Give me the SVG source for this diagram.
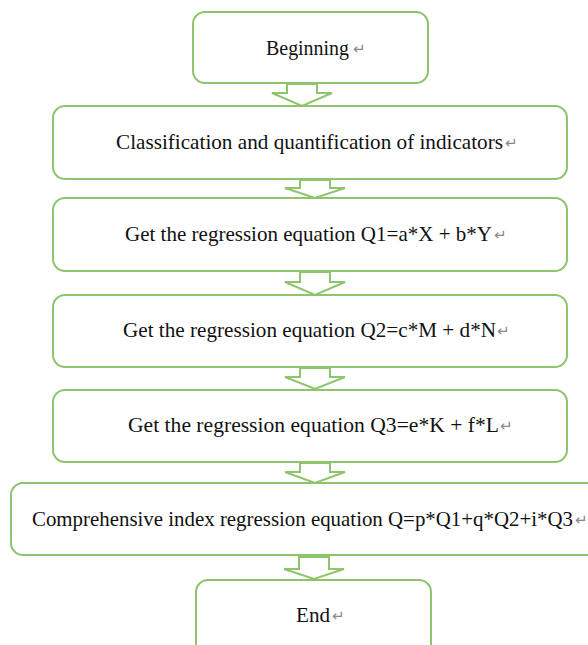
<svg xmlns="http://www.w3.org/2000/svg" width="588" height="645" viewBox="0 0 588 645">
<style>
.box{fill:#fff;stroke:#8dc46c;stroke-width:2}
.arr{fill:#fff;stroke:#8dc46c;stroke-width:2;stroke-linejoin:miter}
.t{font-size:21px;fill:#111}
.p{font-size:15px;fill:#888}
</style>
<rect width="588" height="645" fill="#fff"/>
<g font-family="Liberation Serif, Times New Roman, serif">
<g id="n1"><rect class="box" x="193" y="12" width="235" height="71" rx="12"/><text class="t" x="266" y="55" textLength="83" lengthAdjust="spacingAndGlyphs">Beginning</text><text class="p" x="353" y="54" font-family="DejaVu Sans, sans-serif">↵</text></g>
<g id="n2"><rect class="box" x="53" y="106" width="514" height="73" rx="12"/><text class="t" x="116" y="149" textLength="387" lengthAdjust="spacingAndGlyphs">Classification and quantification of indicators</text><text class="p" x="505" y="148" font-family="DejaVu Sans, sans-serif">↵</text></g>
<g id="n3"><rect class="box" x="53" y="198" width="514" height="73" rx="12"/><text class="t" x="125" y="241" textLength="367" lengthAdjust="spacingAndGlyphs">Get the regression equation Q1=a*X + b*Y</text><text class="p" x="494" y="240" font-family="DejaVu Sans, sans-serif">↵</text></g>
<g id="n4"><rect class="box" x="53" y="295" width="514" height="72" rx="12"/><text class="t" x="123" y="337" textLength="373" lengthAdjust="spacingAndGlyphs">Get the regression equation Q2=c*M + d*N</text><text class="p" x="497" y="336" font-family="DejaVu Sans, sans-serif">↵</text></g>
<g id="n5"><rect class="box" x="53" y="390" width="514" height="72" rx="12"/><text class="t" x="128" y="432" textLength="371" lengthAdjust="spacingAndGlyphs">Get the regression equation Q3=e*K + f*L</text><text class="p" x="500" y="431" font-family="DejaVu Sans, sans-serif">↵</text></g>
<g id="n6"><rect class="box" x="11" y="483" width="600" height="72" rx="12"/><text class="t" x="32" y="526" textLength="541" lengthAdjust="spacingAndGlyphs">Comprehensive index regression equation Q=p*Q1+q*Q2+i*Q3</text><text class="p" x="575" y="525" font-family="DejaVu Sans, sans-serif">↵</text></g>
<g id="n7"><rect class="box" x="196" y="580" width="235" height="90" rx="12"/><text class="t" x="296" y="622" textLength="34" lengthAdjust="spacingAndGlyphs">End</text><text class="p" x="332" y="621" font-family="DejaVu Sans, sans-serif">↵</text></g>
</g>
<g id="connectors">
<polygon class="arr" points="287,84 317,84 317,93 332,93 302,106 272,93 287,93"/>
<polygon class="arr" points="300,180 330,180 330,188 345,188 315,198 285,188 300,188"/>
<polygon class="arr" points="300,272 330,272 330,282 345,282 315,295 285,282 300,282"/>
<polygon class="arr" points="300,368 330,368 330,377 345,377 315,389 285,377 300,377"/>
<polygon class="arr" points="300,463 330,463 330,472 345,472 315,483 285,472 300,472"/>
<polygon class="arr" points="299,557 329,557 329,569 344,569 314,579 284,569 299,569"/>
</g>
</svg>
